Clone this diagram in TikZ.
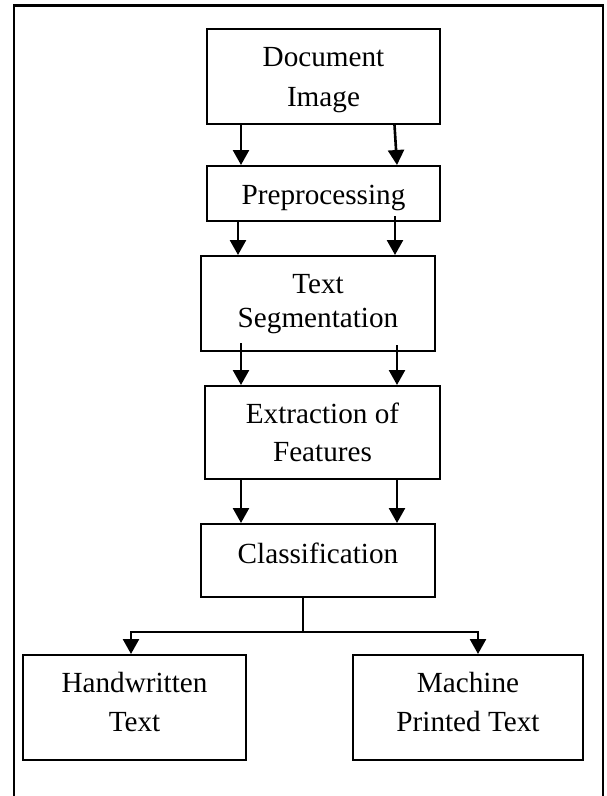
\documentclass[tikz,border=0pt]{standalone}
\usepackage{fontspec}
\setmainfont{Liberation Serif}
\usetikzlibrary{arrows.meta}
\begin{document}
\begin{tikzpicture}[x=1pt,y=-1pt,
  box/.style={draw=black, line width=2pt, inner sep=0pt, align=center,
              font=\fontsize{29.2}{39}\selectfont},
  arr/.style={line width=2.6pt, -{Triangle[length=15pt,width=16pt]}},
  link/.style={line width=2.6pt}]
\useasboundingbox (0,0) rectangle (606,796);
\fill[white] (0,0) rectangle (606,796);
% open frame round the chart
\draw[line width=2.4pt] (14,796) -- (14,5.5) -- (603,5.5) -- (603,796);

% process stages
\node[box, minimum width=233pt, minimum height=95pt, text depth=0pt,
      font=\fontsize{29.2}{40}\selectfont] (doc) at (323.5,76.5) {Document\\Image};
\node[box, minimum width=233pt, minimum height=55pt, text height=22pt, text depth=0pt] (pre) at (323.5,193.5) {Preprocessing};
\node[box, minimum width=234pt, minimum height=95pt, text depth=5.6pt,
      font=\fontsize{29.2}{34}\selectfont] (seg) at (318,303.5) {Text\\Segmentation};
\node[box, minimum width=235pt, minimum height=93pt, text depth=0pt,
      font=\fontsize{29.2}{38}\selectfont] (ext) at (322.5,432.5) {Extraction of\\Features};
\node[box, minimum width=234pt, minimum height=73pt, text depth=14pt] (cls) at (318,560.5) {Classification};
\node[box, minimum width=223pt, minimum height=105pt, text depth=10.6pt] (hw) at (134.5,707.5) {Handwritten\\Text};
\node[box, minimum width=230pt, minimum height=105pt, text depth=10.6pt] (mp) at (468,707.5) {Machine\\Printed Text};

% columns of the paired arrows
\coordinate (xa) at (241,0);
\coordinate (xb) at (238,0);
\coordinate (xc) at (394.5,0);
\coordinate (xd) at (397,0);
\coordinate (xe) at (395,0);

\draw[arr] (doc.south -| xa) -- (pre.north -| xa);
\draw[arr] (doc.south -| xc) -- (pre.north -| xd);
\draw[arr] (pre.south -| xb) -- (seg.north -| xb);
\draw[arr] ([yshift=6pt]pre.south -| xe) -- (seg.north -| xe);
\draw[arr] ([yshift=9pt]seg.south -| xa) -- (ext.north -| xa);
\draw[arr] ([yshift=7pt]seg.south -| xd) -- (ext.north -| xd);
\draw[arr] (ext.south -| xa) -- (cls.north -| xa);
\draw[arr] (ext.south -| xd) -- (cls.north -| xd);

% split into the two outcomes
\coordinate (split) at (303,632);
\coordinate (hl) at (131,632);
\coordinate (hr) at (478,632);
\draw[link] (cls.south -| split) -- (split);
\draw[arr] (split) -- (hl) -- (hw.north -| hl);
\draw[arr] (split) -- (hr) -- (mp.north -| hr);
\end{tikzpicture}
\end{document}
